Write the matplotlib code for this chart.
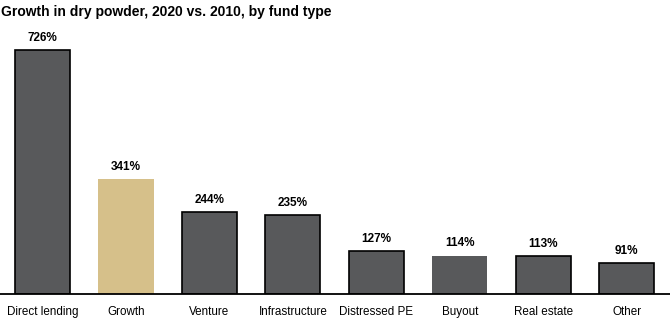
import matplotlib
matplotlib.use("Agg")
from matplotlib import pyplot as plt

fund_types = ["Direct lending", "Growth", "Venture", "Infrastructure",
              "Distressed PE", "Buyout", "Real estate", "Other"]
growth_pct = [726, 341, 244, 235, 127, 114, 113, 91]
highlight = ["Growth"]
no_edge = ["Growth", "Buyout"]

GRAY = "#58595b"
TAN = "#d6c08a"

plt.rcParams['font.family'] = ['Liberation Sans', 'DejaVu Sans']

fig = plt.figure(figsize=(6.70, 3.24), dpi=100)
ax = fig.add_axes([0.0, 0.0926, 1.0, 0.83])

colors = [TAN if f in highlight else GRAY for f in fund_types]
edges = ["none" if f in no_edge else "black" for f in fund_types]
x = list(range(len(fund_types)))
ax.bar(x, growth_pct, width=0.66, color=colors, edgecolor=edges, linewidth=1.2)

for xi, v in zip(x, growth_pct):
    ax.annotate(f"{v}%", (xi, v), xytext=(0, 4.5), textcoords="offset points",
                ha="center", va="bottom", fontsize=8.5, fontweight="bold")

ax.set_xlim(-0.51, 7.52)
ax.set_ylim(0, 800)
ax.set_xticks(x)
ax.set_xticklabels(fund_types, fontsize=8.4)
ax.tick_params(axis="x", length=0, pad=9)
ax.set_yticks([])
for side in ["top", "right", "left"]:
    ax.spines[side].set_visible(False)
ax.spines["bottom"].set_linewidth(1.3)

fig.text(0.002, 0.985, "Growth in dry powder, 2020 vs. 2010, by fund type",
         ha="left", va="top", fontsize=10, fontweight="bold")

fig.savefig("out.png", dpi=100)
